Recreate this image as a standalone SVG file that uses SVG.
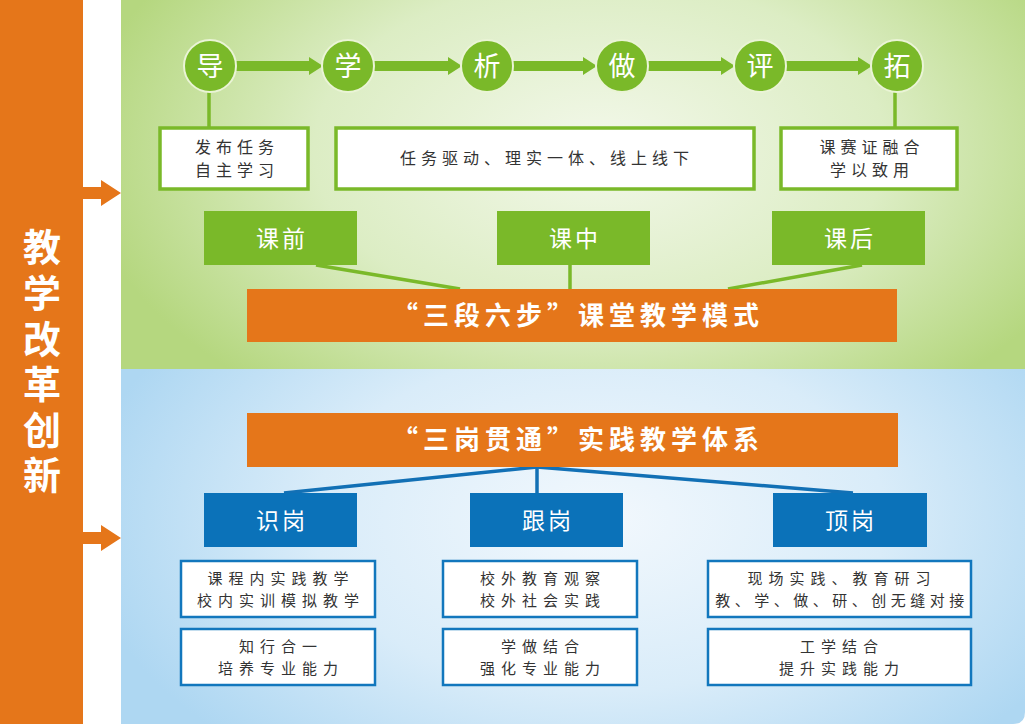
<svg xmlns="http://www.w3.org/2000/svg" width="1025" height="724" viewBox="0 0 1025 724">
<defs>
<radialGradient id="gGreen" cx="600" cy="150" r="520" gradientUnits="userSpaceOnUse" gradientTransform="translate(600 150) scale(1 0.6) translate(-600 -150)">
<stop offset="0" stop-color="#f3f8ea"/>
<stop offset="0.55" stop-color="#dcedc4"/>
<stop offset="1" stop-color="#b5d77f"/>
</radialGradient>
<radialGradient id="gBlue" cx="600" cy="520" r="520" gradientUnits="userSpaceOnUse" gradientTransform="translate(600 520) scale(1 0.6) translate(-600 -520)">
<stop offset="0" stop-color="#f2f8fd"/>
<stop offset="0.55" stop-color="#d9ecf9"/>
<stop offset="1" stop-color="#aed7f2"/>
</radialGradient>
</defs>
<style>
.circ{fill:#7ab929;stroke:#eaf4d6;stroke-width:2}
.ct{font-family:"Noto Sans CJK SC",sans-serif;font-size:27px;fill:#fff;text-anchor:middle}
.gbox{fill:#fff;stroke:#7ab929;stroke-width:3.5}
.bbox{fill:#fff;stroke:#1277bd;stroke-width:2.5}
.bt{font-family:"Noto Sans CJK SC",sans-serif;font-size:15px;fill:#333;text-anchor:middle;letter-spacing:6px}
.tt{font-family:"Noto Sans CJK SC",sans-serif;font-size:16px;fill:#333;text-anchor:middle;letter-spacing:5px}
.lab{font-family:"Noto Sans CJK SC",sans-serif;font-size:23px;fill:#fff;text-anchor:middle;letter-spacing:3px}
.bar{fill:#e5761a}
.bart{font-family:"Noto Sans CJK SC",sans-serif;font-size:26px;font-weight:bold;fill:#fff;text-anchor:middle;letter-spacing:5px}
.garr{fill:#7ab929}
.gl{stroke:#7ab929;stroke-width:3.5;fill:none}
.bl{stroke:#1270b5;stroke-width:3.5;fill:none}
.vt{font-family:"Noto Sans CJK SC",sans-serif;font-size:38px;font-weight:bold;fill:#fff;writing-mode:vertical-rl;letter-spacing:7.6px}
</style>
<rect x="0" y="0" width="1025" height="724" fill="#ffffff"/>
<rect x="121" y="0" width="904" height="369" fill="url(#gGreen)"/>
<path d="M121,369 H1025 V712 Q1025,724 1013,724 H121 Z" fill="url(#gBlue)"/>
<g id="side">
<rect x="0" y="0" width="83" height="724" fill="#e5761a"/>
<path d="M83,187 H101 V180 L121,193 L101,206 V199 H83 Z" fill="#e5761a"/>
<path d="M83,532 H101 V525 L121,538 L101,551 V544 H83 Z" fill="#e5761a"/>
<text class="vt" x="42" y="228">教学改革创新</text>
</g>
<g id="connectors">
<path class="garr" d="M235,61 H309 V57 L323,66 L309,75 V71 H235 Z"/>
<path class="garr" d="M373,61 H448 V57 L462,66 L448,75 V71 H373 Z"/>
<path class="garr" d="M512,61 H583 V57 L597,66 L583,75 V71 H512 Z"/>
<path class="garr" d="M647,61 H721 V57 L735,66 L721,75 V71 H647 Z"/>
<path class="garr" d="M785,61 H858 V57 L872,66 L858,75 V71 H785 Z"/>
<line class="gl" x1="209" y1="92" x2="209" y2="128"/>
<line class="gl" x1="895" y1="92" x2="895" y2="128"/>
<line class="gl" x1="316" y1="265" x2="460" y2="289"/>
<line class="gl" x1="570" y1="265" x2="570" y2="289"/>
<line class="gl" x1="862" y1="265" x2="728" y2="289"/>
<line class="bl" x1="537" y1="467" x2="284" y2="493"/>
<line class="bl" x1="537" y1="467" x2="537" y2="493"/>
<line class="bl" x1="537" y1="467" x2="853" y2="493"/>
</g>
<g id="step-dao"><circle class="circ" cx="210" cy="66" r="26"/><text class="ct" x="210" y="76">导</text></g>
<g id="step-xue"><circle class="circ" cx="348" cy="66" r="26"/><text class="ct" x="348" y="76">学</text></g>
<g id="step-xi"><circle class="circ" cx="487" cy="66" r="26"/><text class="ct" x="487" y="76">析</text></g>
<g id="step-zuo"><circle class="circ" cx="622" cy="66" r="26"/><text class="ct" x="622" y="76">做</text></g>
<g id="step-ping"><circle class="circ" cx="760" cy="66" r="26"/><text class="ct" x="760" y="76">评</text></g>
<g id="step-tuo"><circle class="circ" cx="897" cy="66" r="26"/><text class="ct" x="897" y="76">拓</text></g>
<g id="box-pre"><rect class="gbox" x="160" y="128" width="148" height="61"/><text class="tt" x="237" y="153">发布任务</text><text class="tt" x="237" y="176">自主学习</text></g>
<g id="box-mid"><rect class="gbox" x="336" y="128" width="418" height="61"/><text class="tt" x="547" y="164">任务驱动、理实一体、线上线下</text></g>
<g id="box-post"><rect class="gbox" x="781" y="128" width="176" height="61"/><text class="tt" x="872" y="153">课赛证融合</text><text class="tt" x="872" y="176">学以致用</text></g>
<g id="lab-pre"><rect x="204" y="211" width="153" height="54" fill="#7ab929"/><text class="lab" x="282" y="247">课前</text></g>
<g id="lab-mid"><rect x="497" y="211" width="153" height="54" fill="#7ab929"/><text class="lab" x="575" y="247">课中</text></g>
<g id="lab-post"><rect x="772" y="211" width="153" height="54" fill="#7ab929"/><text class="lab" x="850" y="247">课后</text></g>
<g id="bar-top"><rect class="bar" x="247" y="289" width="650" height="53"/><text class="bart" x="578" y="325">“三段六步”课堂教学模式</text></g>
<g id="bar-bottom"><rect class="bar" x="247" y="413" width="651" height="54"/><text class="bart" x="578" y="449">“三岗贯通”实践教学体系</text></g>
<g id="lab-shi"><rect x="204" y="493" width="153" height="54" fill="#0b72b9"/><text class="lab" x="282" y="529">识岗</text></g>
<g id="lab-gen"><rect x="470" y="493" width="153" height="54" fill="#0b72b9"/><text class="lab" x="548" y="529">跟岗</text></g>
<g id="lab-ding"><rect x="773" y="493" width="154" height="54" fill="#0b72b9"/><text class="lab" x="851" y="529">顶岗</text></g>
<g id="shi-1"><rect class="bbox" x="181" y="561" width="194" height="56"/><text class="bt" x="281" y="584">课程内实践教学</text><text class="bt" x="281" y="606">校内实训模拟教学</text></g>
<g id="shi-2"><rect class="bbox" x="181" y="629" width="194" height="56"/><text class="bt" x="281" y="652">知行合一</text><text class="bt" x="281" y="674">培养专业能力</text></g>
<g id="gen-1"><rect class="bbox" x="443" y="561" width="194" height="56"/><text class="bt" x="543" y="584">校外教育观察</text><text class="bt" x="543" y="606">校外社会实践</text></g>
<g id="gen-2"><rect class="bbox" x="443" y="629" width="194" height="56"/><text class="bt" x="543" y="652">学做结合</text><text class="bt" x="543" y="674">强化专业能力</text></g>
<g id="ding-1"><rect class="bbox" x="708" y="561" width="263" height="56"/><text class="bt" x="842" y="584">现场实践、教育研习</text><text class="bt" x="842" y="606" style="letter-spacing:4.5px">教、学、做、研、创无缝对接</text></g>
<g id="ding-2"><rect class="bbox" x="708" y="629" width="263" height="56"/><text class="bt" x="842" y="652">工学结合</text><text class="bt" x="842" y="674">提升实践能力</text></g>
</svg>
